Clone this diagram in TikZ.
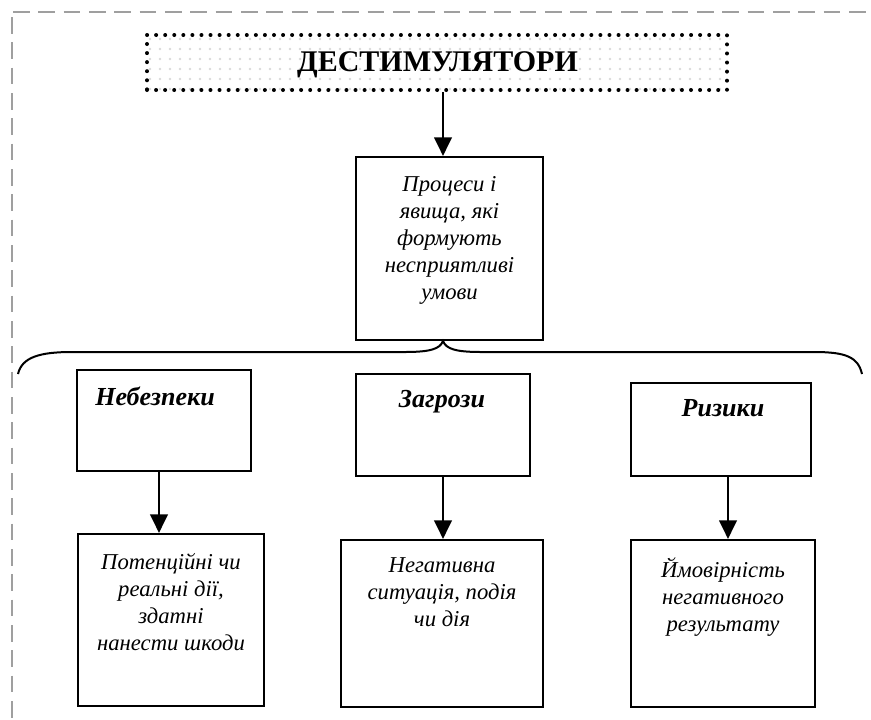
\documentclass[tikz,border=0pt]{standalone}
\usepackage{fontspec}
\setmainfont{Liberation Serif}
\usepackage{tikz}
\usetikzlibrary{arrows.meta,patterns.meta}

\begin{document}
\begin{tikzpicture}[x=0.75pt, y=-0.75pt,
  box/.style={draw, rectangle, line width=1.5pt, inner sep=0pt},
  title box/.style={draw, rectangle, inner sep=0pt, line width=3pt, line cap=round,
    dash pattern=on 0pt off 6.8pt, pattern={Dots[distance=7.5pt, radius=1pt]}, pattern color=gray!30},
  head/.style={font=\fontsize{19.5}{22}\selectfont\bfseries\itshape, inner sep=0pt},
  txt/.style={font=\fontsize{17}{20.25}\selectfont\itshape, align=center, inner sep=0pt},
  arr/.style={line width=2.2pt, -{Triangle[length=14pt, width=13pt]}},
  frame/.style={gray!75, line width=1.5pt, dash pattern=on 12.5pt off 6.5pt}]

\useasboundingbox (0,0) rectangle (871,719);

% dashed frame
\draw[frame] (13,12) -- (871,12);
\draw[frame] (12,17) -- (12,719);

% top
\node[title box, minimum width=580*0.75pt, minimum height=55*0.75pt] (title) at (437,62.5) {};
\node[font=\fontsize{22.5}{24}\selectfont\bfseries, inner sep=0pt] (titletxt) at (437.5,65) {ДЕСТИМУЛЯТОРИ};

\node[box, minimum width=187*0.75pt, minimum height=183*0.75pt] (proc) at (449.5,248.5) {};
\node[txt, anchor=north] (proctxt) at ([yshift=-15pt]proc.north) {Процеси і\\явища, які\\формують\\несприятливі\\умови};

% brace
\coordinate (tip) at (443,341);
\draw[line width=1.5pt] (18,374) .. controls (22,357) and (40,352) .. (72,352) -- (405,352)
  .. controls (430,352) and (440,349) .. (tip) .. controls (446,349) and (456,352) .. (481,352)
  -- (814,352) .. controls (846,352) and (858,357) .. (862,374);

% second row
\node[box, minimum width=174*0.75pt, minimum height=101*0.75pt] (haz) at (164,420.5) {};
\node[box, minimum width=174*0.75pt, minimum height=102*0.75pt] (thr) at (443,425) {};
\node[box, minimum width=180*0.75pt, minimum height=93*0.75pt] (risk) at (721,429.5) {};

\node[head] (haztxt) at (155,396) {Небезпеки};
\node[head] (thrtxt) at (442,402) {Загрози};
\node[head] (risktxt) at (723,408) {Ризики};

% third row
\node[box, minimum width=186*0.75pt, minimum height=172*0.75pt] (hazdef) at (171,620) {};
\node[box, minimum width=202*0.75pt, minimum height=167*0.75pt] (thrdef) at (442,623.5) {};
\node[box, minimum width=184*0.75pt, minimum height=167*0.75pt] (riskdef) at (723,623.5) {};

\node[txt, anchor=north] (hazdeftxt) at ([yshift=-15pt]hazdef.north) {Потенційні чи\\реальні дії,\\здатні\\нанести шкоди};
\node[txt, anchor=north] (thrdeftxt) at ([yshift=-14pt]thrdef.north) {Негативна\\ситуація, подія\\чи дія};
\node[txt, anchor=north] (riskdeftxt) at ([yshift=-14pt]riskdef.north) {Ймовірність\\негативного\\результату};

\path[arr]
([xshift=4.5pt]title.south) edge ([xshift=4.5pt]title.south |- proc.north)
([xshift=-3.75pt]haz.south) edge ([xshift=-3.75pt]haz.south |- hazdef.north)
(thr.south) edge (thr.south |- thrdef.north)
([xshift=5.25pt]risk.south) edge ([xshift=5.25pt]risk.south |- riskdef.north)
;
\end{tikzpicture}
\end{document}
